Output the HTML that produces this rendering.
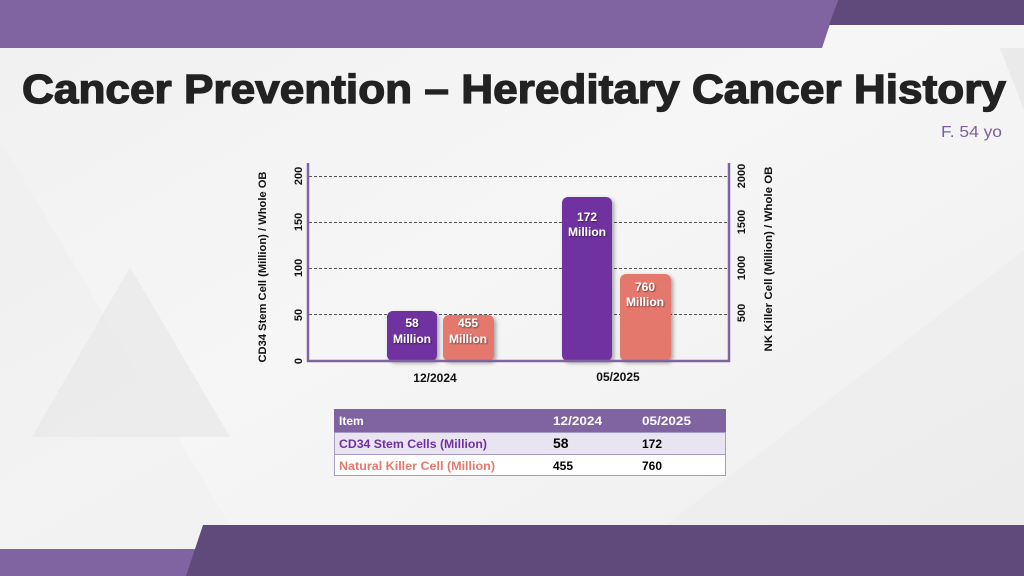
<!DOCTYPE html>
<html>
<head>
<meta charset="utf-8">
<style>
html,body{margin:0;padding:0;width:1024px;height:576px;overflow:hidden;background:#f1f1f1;}
svg{display:block;}
</style>
</head>
<body>
<svg width="1024" height="576" viewBox="0 0 1024 576" xmlns="http://www.w3.org/2000/svg" font-family="'Liberation Sans', Arial, sans-serif">
  <defs>
    <linearGradient id="bg" x1="0" y1="0" x2="1" y2="1">
      <stop offset="0" stop-color="#f0f0f0"/>
      <stop offset="0.45" stop-color="#f6f6f6"/>
      <stop offset="1" stop-color="#eeeeee"/>
    </linearGradient>
    <filter id="sh" x="-30%" y="-30%" width="160%" height="160%">
      <feGaussianBlur in="SourceAlpha" stdDeviation="2.2"/>
      <feOffset dx="2" dy="2" result="b"/>
      <feComponentTransfer><feFuncA type="linear" slope="0.35"/></feComponentTransfer>
      <feMerge><feMergeNode/><feMergeNode in="SourceGraphic"/></feMerge>
    </filter>
    <filter id="ts" x="-20%" y="-20%" width="140%" height="140%">
      <feGaussianBlur in="SourceAlpha" stdDeviation="0.8"/>
      <feOffset dx="0.8" dy="0.8"/>
      <feComponentTransfer><feFuncA type="linear" slope="0.5"/></feComponentTransfer>
      <feMerge><feMergeNode/><feMergeNode in="SourceGraphic"/></feMerge>
    </filter>
  </defs>

  <!-- background -->
  <rect x="0" y="0" width="1024" height="576" fill="url(#bg)"/>
  <polygon points="0,140 260,576 0,576" fill="#ececec" opacity="0.3"/>
  <polygon points="130,267 230,437 32,437" fill="#e8e8e8" opacity="0.7"/>
  <polygon points="1024,250 600,576 1024,576" fill="#e8e8e8" opacity="0.35"/>
  <polygon points="1000,48 1024,48 1024,110" fill="#e0e0e0" opacity="0.5"/>

  <!-- top banner -->
  <polygon points="0,0 838,0 822,48 0,48" fill="#8064a2"/>
  <polygon points="838,0 1024,0 1024,25 829,25" fill="#604a7b"/>

  <!-- bottom banner -->
  <polygon points="0,549 200,549 195,576 0,576" fill="#8064a2"/>
  <polygon points="203,525 1024,525 1024,576 186,576" fill="#604a7b"/>

  <!-- title -->
  <text x="22" y="103" font-size="41" font-weight="bold" fill="#222" stroke="#222" stroke-width="1.3" textLength="984" lengthAdjust="spacingAndGlyphs">Cancer Prevention – Hereditary Cancer History</text>
  <text x="941" y="137" font-size="16" fill="#7b5fa0" textLength="61" lengthAdjust="spacingAndGlyphs">F. 54 yo</text>

  <!-- gridlines -->
  <g stroke="#555" stroke-width="1" stroke-dasharray="3,2">
    <line x1="309" y1="176.5" x2="728" y2="176.5"/>
    <line x1="309" y1="222.5" x2="728" y2="222.5"/>
    <line x1="309" y1="268.5" x2="728" y2="268.5"/>
    <line x1="309" y1="314.5" x2="728" y2="314.5"/>
  </g>

  <!-- bars -->
  <g filter="url(#sh)">
    <rect x="387" y="311" width="50" height="50" rx="6" fill="#7030a0"/>
    <rect x="443" y="315" width="51" height="46" rx="6" fill="#e5786d"/>
    <rect x="562" y="197" width="50" height="164" rx="6" fill="#7030a0"/>
    <rect x="620" y="274" width="51" height="87" rx="6" fill="#e5786d"/>
  </g>

  <!-- bar labels -->
  <g font-size="12" font-weight="bold" fill="#fff" text-anchor="middle" filter="url(#ts)">
    <text x="412" y="327">58</text>
    <text x="412" y="343">Million</text>
    <text x="468" y="327">455</text>
    <text x="468" y="343">Million</text>
    <text x="587" y="221">172</text>
    <text x="587" y="236">Million</text>
    <text x="645" y="291">760</text>
    <text x="645" y="306">Million</text>
  </g>

  <!-- axes -->
  <g stroke="#8064a2" stroke-width="2.5" fill="none">
    <line x1="308" y1="163" x2="308" y2="362"/>
    <line x1="729" y1="163" x2="729" y2="362"/>
    <line x1="307" y1="361" x2="730" y2="361"/>
  </g>

  <!-- left ticks -->
  <g font-size="11" font-weight="bold" fill="#111" text-anchor="middle">
    <text transform="translate(302,176) rotate(-90)">200</text>
    <text transform="translate(302,222) rotate(-90)">150</text>
    <text transform="translate(302,268) rotate(-90)">100</text>
    <text transform="translate(302,315) rotate(-90)">50</text>
    <text transform="translate(302,361) rotate(-90)">0</text>
  </g>
  <text transform="translate(266,267) rotate(-90)" font-size="11" font-weight="bold" fill="#111" text-anchor="middle" textLength="191" lengthAdjust="spacingAndGlyphs">CD34 Stem Cell (Million) / Whole OB</text>

  <!-- right ticks -->
  <g font-size="11" font-weight="bold" fill="#111" text-anchor="middle">
    <text transform="translate(745,176) rotate(-90)">2000</text>
    <text transform="translate(745,222) rotate(-90)">1500</text>
    <text transform="translate(745,268) rotate(-90)">1000</text>
    <text transform="translate(745,313) rotate(-90)">500</text>
  </g>
  <text transform="translate(772,259) rotate(-90)" font-size="11" font-weight="bold" fill="#111" text-anchor="middle" textLength="185" lengthAdjust="spacingAndGlyphs">NK Killer Cell (Million) / Whole OB</text>

  <!-- x labels -->
  <g font-size="12" font-weight="bold" fill="#111" text-anchor="middle">
    <text x="435" y="382">12/2024</text>
    <text x="618" y="381">05/2025</text>
  </g>

  <!-- table -->
  <rect x="334.5" y="409.5" width="391" height="66" fill="#fff" stroke="#a79bc6" stroke-width="1"/>
  <rect x="334" y="409" width="392" height="23" fill="#8064a2"/>
  <rect x="335" y="432" width="390" height="22" fill="#e9e5f0"/>
  <line x1="335" y1="432.5" x2="725" y2="432.5" stroke="#a79bc6" stroke-width="1"/>
  <line x1="335" y1="454.5" x2="725" y2="454.5" stroke="#a79bc6" stroke-width="1"/>

  <g font-size="12" font-weight="bold">
    <text x="339" y="425" fill="#fff">Item</text>
    <text x="553" y="425" fill="#fff" textLength="49" lengthAdjust="spacingAndGlyphs">12/2024</text>
    <text x="642" y="425" fill="#fff" textLength="49" lengthAdjust="spacingAndGlyphs">05/2025</text>

    <text x="339" y="448" fill="#7030a0" textLength="148" lengthAdjust="spacingAndGlyphs">CD34 Stem Cells (Million)</text>
    <text x="553" y="448" fill="#000" font-size="14">58</text>
    <text x="642" y="448" fill="#000">172</text>

    <text x="339" y="470" fill="#e5786d" textLength="156" lengthAdjust="spacingAndGlyphs">Natural Killer Cell (Million)</text>
    <text x="553" y="470" fill="#000">455</text>
    <text x="642" y="470" fill="#000">760</text>
  </g>
</svg>
</body>
</html>
